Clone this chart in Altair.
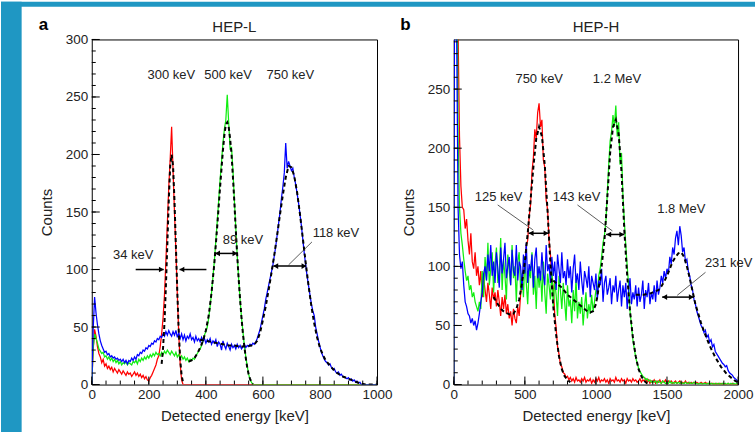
import altair as alt
import pandas as pd

# ---------------- HEP-L (panel a) : 5 keV bins ----------------
EA = list(range(0, 1001, 5))
RED_A = [0, 30, 48, 42, 33, 27, 24, 19, 22, 16,
         18, 14, 16, 13, 15, 11, 14, 12, 10, 13,
         11, 9, 12, 10, 8, 11, 9, 10, 7, 9,
         11, 8, 10, 7, 9, 6, 8, 5, 7, 4,
         3, 6, 8, 11, 14, 17, 22, 25, 33, 44,
         58, 78, 108, 140, 172, 196, 224, 186, 150, 116,
         78, 44, 18, 4, 0, 0, 0, 0, 0, 0,
         0, 0, 0, 0, 0, 0, 0, 0, 0, 0,
         0, 0, 0, 0, 0, 0, 0, 0, 0, 0,
         0, 0, 0, 0, 0, 0, 0, 0, 0, 0,
         0, 0, 0, 0, 0, 0, 0, 0, 0, 0,
         0, 0, 0, 0, 0, 0, 0, 0, 0, 0,
         0, 0, 0, 0, 0, 0, 0, 0, 0, 0,
         0, 0, 0, 0, 0, 0, 0, 0, 0, 0,
         0, 0, 0, 0, 0, 0, 0, 0, 0, 0,
         0, 0, 0, 0, 0, 0, 0, 0, 0, 0,
         0, 0, 0, 0, 0, 0, 0, 0, 0, 0,
         0, 0, 0, 0, 0, 0, 0, 0, 0, 0,
         0, 0, 0, 0, 0, 0, 0, 0, 0, 0,
         0, 0, 0, 0, 0, 0, 0, 0, 0, 0,
         0]
GREEN_A = [0, 32, 44, 40, 36, 31, 29, 27, 28, 24,
           25, 22, 24, 21, 23, 20, 22, 19, 21, 18,
           20, 17, 19, 18, 20, 17, 19, 18, 17, 20,
           19, 21, 18, 22, 20, 23, 21, 24, 22, 25,
           23, 26, 24, 27, 25, 28, 26, 27, 25, 28,
           26, 29, 27, 30, 28, 26, 29, 27, 25, 28,
           24, 26, 23, 25, 22, 24, 21, 23, 20, 22,
           21, 23, 22, 25, 27, 29, 31, 34, 38, 43,
           46, 50, 58, 68, 80, 94, 108, 125, 142, 160,
           178, 194, 210, 222, 230, 252, 228, 205, 206, 186,
           160, 136, 112, 92, 74, 58, 46, 34, 24, 16,
           9, 4, 2, 0, 0, 0, 0, 0, 0, 0,
           0, 0, 0, 0, 0, 0, 0, 0, 0, 0,
           0, 0, 0, 0, 0, 0, 0, 0, 0, 0,
           0, 0, 0, 0, 0, 0, 0, 0, 0, 0,
           0, 0, 0, 0, 0, 0, 0, 0, 0, 0,
           0, 0, 0, 0, 0, 0, 0, 0, 0, 0,
           0, 0, 0, 0, 0, 0, 0, 0, 0, 0,
           0, 0, 0, 0, 0, 0, 0, 0, 0, 0,
           0, 0, 0, 0, 0, 0, 0, 0, 0, 0,
           0]
BLUE_A = [0, 48, 76, 62, 52, 44, 38, 34, 31, 28,
          29, 26, 27, 24, 25, 23, 24, 22, 23, 21,
          22, 20, 22, 19, 21, 18, 21, 20, 23, 21,
          24, 22, 26, 25, 28, 27, 30, 29, 32, 31,
          34, 33, 36, 35, 38, 37, 40, 39, 42, 41,
          44, 42, 46, 43, 47, 44, 42, 46, 43, 47,
          41, 45, 40, 44, 39, 43, 38, 42, 40, 44,
          39, 41, 37, 42, 38, 40, 37, 41, 38, 40,
          36, 39, 37, 40, 35, 38, 36, 39, 33, 37,
          35, 30, 38, 34, 31, 36, 33, 30, 35, 32,
          34, 31, 35, 32, 34, 31, 33, 35, 32, 34,
          33, 35, 34, 36, 35, 37, 40, 44, 48, 54,
          60, 66, 74, 80, 86, 92, 98, 104, 112, 120,
          130, 140, 150, 162, 172, 184, 210, 188, 194, 190,
          186, 188, 180, 174, 166, 158, 148, 138, 126, 114,
          104, 94, 86, 78, 70, 64, 60, 50, 44, 38,
          33, 28, 25, 22, 20, 19, 17, 18, 15, 13,
          14, 11, 10, 11, 8, 9, 7, 7, 6, 5,
          6, 4, 5, 3, 4, 2, 3, 1, 2, 0,
          0, 0, 0, 0, 0, 0, 0, 0, 0, 0,
          0]
FIT_RED_A_E = [245, 250, 255, 260, 265, 270, 275, 280, 285, 290, 295, 300, 305, 310, 315, 320]
FIT_RED_A_C = [18, 32, 54, 86, 122, 160, 190, 200, 190, 160, 120, 80, 46, 22, 8, 2]
FIT_GREEN_A_E = [340, 350, 360, 370, 380, 390, 400, 410, 420, 430, 440, 450, 460,
                 465, 470, 475, 480, 485, 490, 495, 500, 505, 510, 515, 520, 525,
                 530, 535, 540, 545, 550, 555, 560, 565]
FIT_GREEN_A_C = [20, 21, 23, 27, 32, 38, 47, 60, 80, 106, 138, 172, 204,
                 217, 226, 228, 224, 214, 200, 180, 158, 134, 112, 92, 74, 58,
                 44, 33, 23, 15, 9, 5, 2, 0]
FIT_BLUE_A_E = [380, 400, 420, 440, 460, 480, 500, 520, 540, 560,
                570, 580, 590, 600, 610, 620, 630, 640, 650, 660, 670, 680, 690,
                700, 710, 720, 730, 740, 750, 760, 770, 780, 790, 800, 810, 820,
                840, 860, 880, 900, 920, 940, 960, 1000]
FIT_BLUE_A_C = [39, 38, 37, 36, 35, 34, 34, 33, 33, 34,
                35, 38, 45, 56, 68, 82, 97, 113, 130, 148, 165, 180, 190,
                189, 181, 167, 148, 127, 106, 86, 68, 53, 41, 32, 26, 21,
                15, 10, 7, 5, 3, 1, 0, 0]

TXT_A = ["300 keV", "500 keV", "750 keV", "34 keV", "89 keV", "118 keV"]
TXT_A_E = [279, 478, 696, 145, 530, 856]
TXT_A_C = [269, 269, 269, 113, 125.7, 132]
ARR_A_E1 = [154, 402, 433, 637]
ARR_A_E2 = [252, 308, 510, 752]
ARR_A_C = [100, 100, 114, 103]
HEAD_A_E = [244, 316, 441, 502, 645, 744]
HEAD_A_C = [100, 100, 114, 114, 103, 103]
HEAD_A_S = ["triangle-right", "triangle-left", "triangle-left", "triangle-right",
            "triangle-left", "triangle-right"]
LEAD_A = {"E": [772], "C": [124], "E2": [690], "C2": [104]}

# ---------------- HEP-H (panel b) : 10 keV bins ----------------
EB = list(range(0, 2001, 10))
RED_B = [0, 1500, 640, 300, 210, 168, 150, 148, 132, 140,
         122, 110, 128, 104, 98, 112, 92, 100, 84, 96,
         74, 90, 80, 70, 86, 76, 64, 82, 72, 78,
         66, 80, 70, 58, 74, 64, 76, 60, 68, 56,
         62, 50, 64, 56, 52, 66, 58, 76, 86, 96,
         100, 118, 122, 142, 152, 180, 192, 216, 208, 230,
         238, 218, 224, 190, 184, 156, 148, 122, 110, 90,
         82, 60, 48, 32, 26, 17, 15, 10, 9, 6,
         7, 4, 6, 3, 5, 2, 6, 3, 4, 2,
         5, 3, 6, 2, 4, 3, 5, 1, 4, 2,
         5, 3, 6, 2, 4, 3, 5, 2, 4, 1,
         5, 3, 4, 2, 6, 3, 4, 2, 5, 3,
         4, 1, 5, 3, 4, 2, 5, 3, 4, 2,
         3, 5, 2, 4, 3, 5, 2, 4, 1, 3,
         2, 4, 1, 3, 2, 4, 1, 3, 2, 4,
         1, 3, 2, 3, 1, 2, 3, 1, 2, 3,
         1, 2, 1, 3, 1, 2, 1, 2, 1, 2,
         1, 2, 1, 1, 2, 1, 1, 2, 1, 1,
         0, 1, 1, 0, 1, 0, 1, 0, 1, 0,
         1, 0, 0, 1, 0, 0, 1, 0, 0, 0,
         0]
GREEN_B = [0, 900, 420, 210, 150, 128, 118, 106, 96, 88,
           92, 80, 84, 74, 78, 70, 66, 62, 70, 64,
           96, 74, 108, 88, 120, 84, 98, 112, 78, 102,
           116, 86, 94, 124, 80, 106, 92, 72, 110, 96,
           84, 118, 90, 100, 70, 104, 112, 80, 94, 74,
           108, 86, 68, 98, 90, 112, 76, 92, 64, 100,
           82, 96, 70, 104, 78, 60, 94, 84, 72, 98,
           66, 88, 76, 58, 92, 80, 64, 86, 70, 54,
           84, 66, 72, 52, 80, 62, 90, 56, 70, 60,
           74, 50, 66, 78, 56, 68, 60, 76, 62, 70,
           80, 78, 92, 98, 108, 120, 126, 138, 162, 186,
           206, 214, 228, 218, 236, 210, 222, 186, 196, 160,
           138, 118, 100, 84, 62, 50, 38, 30, 23, 18,
           14, 11, 9, 7, 6, 4, 5, 3, 4, 2,
           3, 2, 3, 1, 3, 2, 1, 3, 2, 1,
           2, 1, 3, 1, 2, 1, 2, 1, 2, 1,
           2, 1, 1, 2, 1, 1, 2, 1, 1, 2,
           1, 1, 0, 1, 1, 0, 1, 1, 0, 1,
           0, 1, 0, 1, 0, 1, 0, 1, 0, 1,
           0, 1, 0, 1, 0, 1, 0, 1, 0, 1,
           0]
BLUE_B = [0, 700, 300, 150, 110, 98, 104, 84, 70, 66,
          60, 58, 52, 56, 50, 54, 46, 52, 60, 70,
          78, 94, 100, 88, 110, 96, 118, 92, 104, 86,
          112, 98, 82, 116, 94, 106, 120, 90, 100, 108,
          84, 114, 96, 92, 118, 88, 104, 100, 80, 110,
          94, 120, 86, 102, 96, 110, 82, 106, 116, 90,
          100, 88, 112, 94, 84, 118, 96, 102, 86, 108,
          92, 104, 80, 110, 98, 86, 112, 90, 96, 84,
          106, 90, 100, 78, 98, 110, 86, 94, 80, 104,
          88, 76, 96, 90, 82, 100, 74, 92, 86, 80,
          94, 72, 88, 84, 98, 70, 86, 92, 76, 82,
          90, 68, 84, 78, 92, 70, 80, 88, 66, 84,
          74, 86, 64, 80, 90, 68, 78, 72, 84, 66,
          82, 70, 76, 88, 64, 80, 74, 86, 68, 78,
          72, 84, 70, 88, 76, 82, 92, 86, 96, 90,
          98, 94, 108, 102, 116, 110, 124, 130, 118, 134,
          126, 112, 116, 104, 106, 96, 92, 84, 80, 72,
          68, 62, 58, 54, 50, 48, 44, 46, 40, 42,
          36, 38, 32, 34, 28, 26, 24, 22, 20, 18,
          17, 15, 16, 12, 10, 9, 8, 6, 5, 4,
          2]
FIT_RED_B_E = [280, 300, 320, 340, 360, 380, 400, 420, 440, 460,
               480, 500, 520, 540, 560, 580, 600, 620, 640, 660,
               680, 700, 720, 740, 760, 780, 800, 820]
FIT_RED_B_C = [74, 70, 66, 63, 61, 60, 59, 60, 64, 72,
               86, 104, 128, 156, 184, 208, 218, 210, 186, 146,
               102, 66, 42, 24, 13, 7, 4, 2]
FIT_GREEN_B_E = [700, 720, 740, 760, 780, 800, 820, 840, 860, 880,
                 900, 920, 940, 960, 980, 1000, 1020, 1040, 1060, 1080,
                 1100, 1120, 1140, 1160, 1180, 1200, 1220, 1240, 1260, 1280,
                 1300, 1320, 1340, 1360, 1380]
FIT_GREEN_B_C = [88, 86, 84, 82, 79, 76, 74, 72, 70, 68,
                 66, 64, 62, 61, 62, 68, 82, 100, 122, 158,
                 196, 218, 224, 212, 180, 130, 92, 62, 40, 24,
                 13, 7, 3, 1, 0]
FIT_BLUE_B_E = [1280, 1300, 1320, 1340, 1360, 1380, 1400, 1420, 1440, 1460,
                1480, 1500, 1520, 1540, 1560, 1580, 1600, 1620, 1640, 1660,
                1680, 1700, 1720, 1740, 1760, 1780, 1800, 1820, 1840, 1860,
                1880, 1900, 1920, 1940, 1960, 1980, 2000]
FIT_BLUE_B_C = [76, 76, 76, 76, 77, 77, 78, 79, 80, 83,
                87, 92, 98, 104, 108, 111, 112, 108, 100, 90,
                79, 68, 60, 52, 45, 39, 33, 28, 23, 19,
                15, 12, 9, 7, 5, 3, 2]

TXT_B = ["750 keV", "1.2 MeV", "125 keV", "143 keV", "1.8 MeV", "231 keV"]
TXT_B_E = [601, 1148, 315, 864, 1601, 1934]
TXT_B_C = [258.3, 258.3, 159, 159, 148.8, 102.8]
ARR_B_E1 = [526, 1072, 1466]
ARR_B_E2 = [667, 1200, 1689]
ARR_B_C = [128, 127, 74]
HEAD_B_E = [544, 649, 1090, 1182, 1484, 1671]
HEAD_B_C = [128, 128, 127, 127, 74, 74]
HEAD_B_S = ["triangle-left", "triangle-right", "triangle-left", "triangle-right",
            "triangle-left", "triangle-right"]
LEAD_B = {"E": [309, 870, 1771], "C": [152, 152, 95], "E2": [556, 1116, 1572], "C2": [131, 130, 75.5]}

# ---------------- axes / ticks ----------------
A_X_LABELS = [0, 200, 400, 600, 800, 1000]
A_Y_LABELS = [0, 50, 100, 150, 200, 250, 300]
B_X_LABELS = [0, 500, 1000, 1500, 2000]
B_Y_LABELS = [0, 50, 100, 150, 200, 250]
A_X_MINOR = list(range(0, 1001, 50))
A_Y_MINOR = list(range(0, 301, 10))
B_X_MINOR = list(range(0, 2001, 100))
B_Y_MINOR = list(range(0, 291, 10))

FONT = "Liberation Sans"
TXT = "#222222"
BG_BLUE = "#1f97c3"
RED, GREEN, BLUE = "#ff0000", "#10ee10", "#0000ff"
H = 346
WA, WB = 286, 285
ONE = pd.DataFrame({"k": [0]})


def panel(width, xdom, ydom, xlabels, ylabels, xminor, yminor, ex, series, fits,
          texts, arrows, heads, leaders, title, letter, strips=False):
    xs = alt.Scale(domain=xdom, nice=False, zero=False)
    ys = alt.Scale(domain=ydom, nice=False, zero=False)
    xax = alt.Axis(values=xlabels, format="d", ticks=False, domain=False, grid=False,
                   labelFlush=False, labelPadding=3, title="Detected energy [keV]", titlePadding=8)
    yax = alt.Axis(values=ylabels, format="d", ticks=False, domain=False, grid=False,
                   labelPadding=4, title="Counts", titlePadding=11)

    def X(field="E"):
        return alt.X(f"{field}:Q", scale=xs, axis=xax)

    def Y(field="C"):
        return alt.Y(f"{field}:Q", scale=ys, axis=yax)

    layers = []
    if strips:
        layers.append(alt.Chart(ONE).mark_rect(color=BG_BLUE).encode(
            x=alt.value(-91), x2=alt.value(-70.3), y=alt.value(-37.7), y2=alt.value(H + 48.3)))
        layers.append(alt.Chart(ONE).mark_rect(color=BG_BLUE).encode(
            x=alt.value(-91), x2=alt.value(665), y=alt.value(-37.7), y2=alt.value(-32.7)))
    for vals, col in series:
        df = pd.DataFrame({"E": ex, "C": vals})
        layers.append(alt.Chart(df).mark_line(color=col, strokeWidth=1.25, clip=True).encode(
            x=X(), y=Y()))
    for fe, fc in fits:
        df = pd.DataFrame({"E": fe, "C": fc})
        layers.append(alt.Chart(df).mark_line(color="black", strokeWidth=2, strokeDash=[4, 3],
                                              clip=True).encode(x=X(), y=Y()))
    # inward ticks
    for vals, ln in [(xminor, 4), (xlabels, 8)]:
        layers.append(alt.Chart(pd.DataFrame({"E": vals})).mark_rule(color="black", strokeWidth=1).encode(
            x=X(), y=alt.value(H), y2=alt.value(H - ln)))
    for vals, ln in [(yminor, 4), (ylabels, 8)]:
        layers.append(alt.Chart(pd.DataFrame({"C": vals})).mark_rule(color="black", strokeWidth=1).encode(
            y=Y(), x=alt.value(0), x2=alt.value(ln)))
    # leader lines
    layers.append(alt.Chart(pd.DataFrame(leaders)).mark_rule(color="#333333", strokeWidth=0.8).encode(
        x=X(), y=Y(), x2="E2:Q", y2="C2:Q"))
    # arrows
    ae1, ae2, ac = arrows
    layers.append(alt.Chart(pd.DataFrame({"E": ae1, "E2": ae2, "C": ac})).mark_rule(
        color="black", strokeWidth=1.5).encode(x=X(), x2="E2:Q", y=Y()))
    he, hc, hs = heads
    layers.append(alt.Chart(pd.DataFrame({"E": he, "C": hc, "s": hs})).mark_point(
        filled=True, color="black", opacity=1, size=32).encode(
        x=X(), y=Y(), shape=alt.Shape("s:N", scale=None)))
    # text annotations
    tt, te, tc = texts
    layers.append(alt.Chart(pd.DataFrame({"t": tt, "E": te, "C": tc})).mark_text(
        font=FONT, fontSize=13, color=TXT, baseline="middle", align="center").encode(
        x=X(), y=Y(), text="t:N"))
    # panel title and letter
    layers.append(alt.Chart(ONE).mark_text(text=title, font=FONT, fontSize=15, color=TXT,
                                           baseline="alphabetic", align="center").encode(
        x=alt.value(width / 2), y=alt.value(-7)))
    layers.append(alt.Chart(ONE).mark_text(text=letter, font=FONT, fontSize=17, fontWeight="bold",
                                           color="black", baseline="alphabetic", align="center").encode(
        x=alt.value(-48.5), y=alt.value(-9)))
    return alt.layer(*layers).properties(width=width, height=H)


pa = panel(WA, [0, 1000], [0, 300], A_X_LABELS, A_Y_LABELS, A_X_MINOR, A_Y_MINOR, EA,
           [(RED_A, RED), (GREEN_A, GREEN), (BLUE_A, BLUE)],
           [(FIT_RED_A_E, FIT_RED_A_C), (FIT_GREEN_A_E, FIT_GREEN_A_C), (FIT_BLUE_A_E, FIT_BLUE_A_C)],
           (TXT_A, TXT_A_E, TXT_A_C), (ARR_A_E1, ARR_A_E2, ARR_A_C),
           (HEAD_A_E, HEAD_A_C, HEAD_A_S), LEAD_A, "HEP-L", "a", strips=True)
pb = panel(WB, [0, 2000], [0, 292], B_X_LABELS, B_Y_LABELS, B_X_MINOR, B_Y_MINOR, EB,
           [(RED_B, RED), (GREEN_B, GREEN), (BLUE_B, BLUE)],
           [(FIT_RED_B_E, FIT_RED_B_C), (FIT_GREEN_B_E, FIT_GREEN_B_C), (FIT_BLUE_B_E, FIT_BLUE_B_C)],
           (TXT_B, TXT_B_E, TXT_B_C), (ARR_B_E1, ARR_B_E2, ARR_B_C),
           (HEAD_B_E, HEAD_B_C, HEAD_B_S), LEAD_B, "HEP-H", "b")

chart = alt.hconcat(pa, pb, spacing=77, bounds="flush").properties(
    padding=0, background="white"
).configure_view(
    stroke="black", strokeWidth=1
).configure_axis(
    labelFont=FONT, titleFont=FONT, labelFontSize=13.5, titleFontSize=15,
    labelColor=TXT, titleColor=TXT, titleFontWeight="normal"
).configure_text(font=FONT)

chart.save("out.html", embed_options={"renderer": "svg", "actions": False})
